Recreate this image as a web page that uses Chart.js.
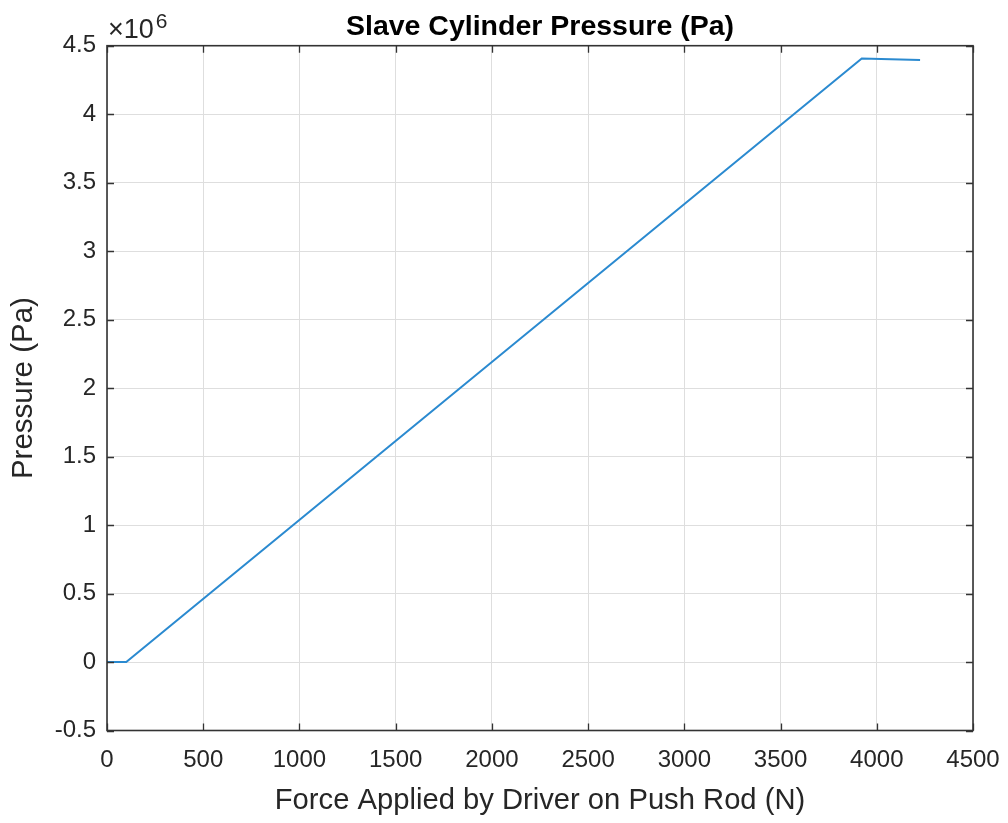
<!DOCTYPE html>
<html>
<head>
<meta charset="utf-8">
<script src="https://cdn.jsdelivr.net/npm/chart.js@4/dist/chart.umd.min.js"></script>
<style>
  html, body { margin: 0; padding: 0; background: #ffffff; }
  #wrap { width: 1008px; height: 823px; position: relative; }
</style>
</head>
<body>
<div id="wrap"><canvas id="c" width="1008" height="823"></canvas></div>
<script>
// ---- Data ----
const forceN      = [0, 100, 3922, 4225];            // Force applied by driver on push rod (N)
const pressurePa  = [0, 0, 4.407e6, 4.396e6];        // Slave cylinder pressure (Pa)
const xTickValues = [0, 500, 1000, 1500, 2000, 2500, 3000, 3500, 4000, 4500];
const yTickValues = [-0.5e6, 0, 0.5e6, 1e6, 1.5e6, 2e6, 2.5e6, 3e6, 3.5e6, 4e6, 4.5e6];
const yExponent   = 6;

const titleText  = 'Slave Cylinder Pressure (Pa)';
const xLabelText = 'Force Applied by Driver on Push Rod (N)';
const yLabelText = 'Pressure (Pa)';

const FONT = '"Liberation Sans", Arial, Helvetica, sans-serif';
const TEXT = '#262626';
const AXIS = '#333333';
const GRID = '#dedede';
const LINE = '#2b8ad0';

const points = forceN.map((f, i) => ({ x: f, y: pressurePa[i] }));

const matlabAxes = {
  id: 'matlabAxes',
  afterDatasetsDraw(chart) {
    const { ctx, chartArea: a, scales } = chart;
    const tl = 7;
    ctx.save();
    ctx.strokeStyle = AXIS;
    ctx.lineWidth = 1.3;
    ctx.beginPath();
    xTickValues.forEach(v => {
      const px = Math.round(scales.x.getPixelForValue(v)) + 0.5;
      ctx.moveTo(px, a.bottom); ctx.lineTo(px, a.bottom - tl);
      ctx.moveTo(px, a.top);    ctx.lineTo(px, a.top + tl);
    });
    yTickValues.forEach(v => {
      const py = Math.round(scales.y.getPixelForValue(v)) + 0.5;
      ctx.moveTo(a.left, py);  ctx.lineTo(a.left + tl, py);
      ctx.moveTo(a.right, py); ctx.lineTo(a.right - tl, py);
    });
    ctx.stroke();
    ctx.lineWidth = 1.6;
    ctx.strokeRect(a.left, a.top, a.right - a.left, a.bottom - a.top);

    // exponent label  x10^6
    ctx.fillStyle = TEXT;
    ctx.textBaseline = 'alphabetic';
    ctx.textAlign = 'left';
    ctx.font = '27px ' + FONT;
    const base = '\u00D710';
    ctx.fillText(base, a.left + 1, 38);
    const w = ctx.measureText(base).width;
    ctx.font = '21px ' + FONT;
    ctx.fillText(String(yExponent), a.left + 2 + w + 1, 28);
    ctx.restore();
  }
};

new Chart(document.getElementById('c'), {
  type: 'scatter',
  data: {
    datasets: [{
      data: points,
      showLine: true,
      borderColor: LINE,
      borderWidth: 2,
      pointRadius: 0,
      pointHoverRadius: 0,
      fill: false,
      tension: 0
    }]
  },
  options: {
    responsive: false,
    animation: false,
    devicePixelRatio: 1,
    layout: { padding: { left: 0, right: 35, top: 0, bottom: 0 } },
    plugins: {
      legend: { display: false },
      tooltip: { enabled: false },
      title: {
        display: true,
        fullSize: false,
        text: titleText,
        color: '#000000',
        font: { family: FONT, size: 28.5, weight: 'bold', lineHeight: 1.2 },
        padding: { top: 10, bottom: 1.5 }
      }
    },
    scales: {
      x: {
        type: 'linear',
        min: 0, max: 4500,
        afterBuildTicks: s => { s.ticks = xTickValues.map(v => ({ value: v })); },
        afterFit: s => { s.height = 92.5; s.paddingLeft = 0; s.paddingRight = 0; },
        ticks: {
          autoSkip: false, maxRotation: 0,
          color: TEXT, padding: 15,
          font: { family: FONT, size: 24 },
          callback: v => String(v)
        },
        grid: { color: GRID, lineWidth: 1, drawTicks: false },
        border: { display: false },
        title: {
          display: true, text: xLabelText, color: TEXT,
          font: { family: FONT, size: 29.2, lineHeight: 1.2 },
          padding: { top: 0, bottom: 5 }
        }
      },
      y: {
        type: 'linear',
        min: -0.5e6, max: 4.5e6,
        afterBuildTicks: s => { s.ticks = yTickValues.map(v => ({ value: v })); },
        afterFit: s => { s.width = 107; s.paddingTop = 0; s.paddingBottom = 0; },
        ticks: {
          autoSkip: false,
          color: TEXT, padding: 11,
          font: { family: FONT, size: 24 },
          callback: v => String(Math.round(v / 1e5) / 10)
        },
        grid: { color: GRID, lineWidth: 1, drawTicks: false },
        border: { display: false },
        title: {
          display: true, text: yLabelText, color: TEXT,
          font: { family: FONT, size: 29.5, lineHeight: 1.2 },
          padding: { top: 6, bottom: 0 }
        }
      }
    }
  },
  plugins: [matlabAxes]
});
</script>
</body>
</html>
